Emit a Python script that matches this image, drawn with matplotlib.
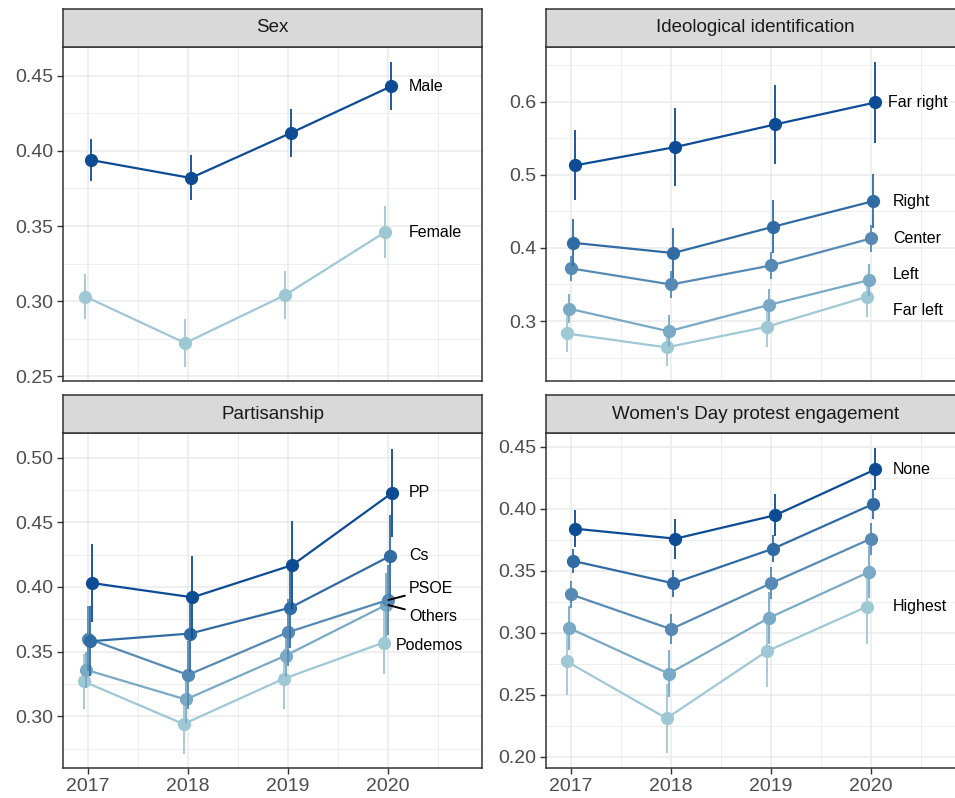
import matplotlib
matplotlib.use("Agg")
import matplotlib.pyplot as plt
import numpy as np
from matplotlib.colors import to_rgb

plt.rcParams['font.family'] = ['Liberation Sans', 'DejaVu Sans']

years = [2017, 2018, 2019, 2020]

# ---- Sex ----
sex_groups = ["Male", "Female"]
sex_est = [[0.394, 0.382, 0.412, 0.443],
           [0.303, 0.272, 0.304, 0.346]]
sex_err = [[0.014, 0.015, 0.016, 0.016],
           [0.015, 0.016, 0.016, 0.017]]

# ---- Ideological identification ----
ideo_groups = ["Far right", "Right", "Center", "Left", "Far left"]
ideo_est = [[0.513, 0.538, 0.569, 0.599],
            [0.407, 0.393, 0.429, 0.464],
            [0.372, 0.350, 0.376, 0.413],
            [0.317, 0.286, 0.322, 0.356],
            [0.283, 0.264, 0.292, 0.333]]
ideo_err = [[0.048, 0.053, 0.054, 0.055],
            [0.032, 0.034, 0.036, 0.037],
            [0.017, 0.019, 0.019, 0.019],
            [0.020, 0.022, 0.022, 0.022],
            [0.026, 0.026, 0.027, 0.028]]

# ---- Partisanship ----
part_groups = ["PP", "Cs", "PSOE", "Others", "Podemos"]
part_est = [[0.403, 0.392, 0.417, 0.473],
            [0.358, 0.364, 0.384, 0.424],
            [0.360, 0.332, 0.365, 0.390],
            [0.336, 0.313, 0.347, 0.386],
            [0.327, 0.294, 0.329, 0.357]]
part_err = [[0.030, 0.032, 0.034, 0.034],
            [0.027, 0.030, 0.031, 0.032],
            [0.025, 0.026, 0.026, 0.027],
            [0.014, 0.018, 0.017, 0.025],
            [0.021, 0.023, 0.023, 0.024]]

# ---- Women's Day protest engagement ----
wd_groups = ["None", "", "", "", "Highest"]
wd_est = [[0.384, 0.376, 0.395, 0.432],
          [0.358, 0.340, 0.368, 0.404],
          [0.331, 0.303, 0.340, 0.376],
          [0.304, 0.267, 0.312, 0.349],
          [0.277, 0.231, 0.285, 0.321]]
wd_err = [[0.015, 0.016, 0.017, 0.017],
          [0.010, 0.011, 0.011, 0.012],
          [0.011, 0.012, 0.013, 0.013],
          [0.018, 0.019, 0.021, 0.021],
          [0.027, 0.028, 0.029, 0.030]]

DARK = "#0d4c94"
LIGHT = "#9fc8d5"


def palette(n):
    a, b = np.array(to_rgb(DARK)), np.array(to_rgb(LIGHT))
    return [tuple(a + (b - a) * i / (n - 1)) for i in range(n)]


W, H = 955, 798
fig = plt.figure(figsize=(W / 100, H / 100), dpi=100)


def fx(px):
    return px / W


def fy(py):
    return 1 - py / H


def make_panel(x0, ptop, pbot, title):
    width = 419
    ax = fig.add_axes([fx(x0), fy(pbot), width / W, (pbot - ptop) / H])
    sax = fig.add_axes([fx(x0), fy(ptop), width / W, 38 / H])
    sax.set_facecolor("#d9d9d9")
    sax.set_xticks([]); sax.set_yticks([])
    for s in sax.spines.values():
        s.set_color("#333333"); s.set_linewidth(1.1)
    sax.text(0.5, 0.5, title, ha="center", va="center", fontsize=13.5,
             color="#1a1a1a", transform=sax.transAxes)
    return ax


def draw(ax, groups, est, err, ylim, yticks, fmt, labels, show_x,
         dodge=0.112):
    n = len(groups)
    cols = palette(n)
    ax.set_xticks(years)
    ax.set_xticks([2017.5, 2018.5, 2019.5, 2020.5], minor=True)
    ax.set_yticks(yticks)
    ymin = [(a + b) / 2 for a, b in zip(yticks[:-1], yticks[1:])]
    step = yticks[1] - yticks[0]
    ymin = [yticks[0] - step / 2] + ymin + [yticks[-1] + step / 2]
    ax.set_yticks(ymin, minor=True)
    ax.set_yticklabels([fmt.format(v) for v in yticks])
    ax.grid(True, which="major", color="#ebebeb", linewidth=1.1, zorder=0)
    ax.grid(True, which="minor", color="#ebebeb", linewidth=0.6, zorder=0)
    ax.set_axisbelow(True)
    for s in ax.spines.values():
        s.set_color("#333333"); s.set_linewidth(1.1)
    ax.tick_params(axis="both", which="major", colors="#333333", length=4,
                   width=1.0, labelsize=14, labelcolor="#4d4d4d", pad=3)
    ax.tick_params(axis="both", which="minor", length=0)
    if not show_x:
        ax.tick_params(axis="x", which="major", length=0, labelbottom=False)
    # draw lighter groups first so darker on top
    for i in reversed(range(n)):
        off = ((n - 1) / 2 - i) * dodge / n
        xs = [y + off for y in years]
        ax.errorbar(xs, est[i], yerr=err[i], color=cols[i], linewidth=1.6,
                    elinewidth=1.3, marker="o", markersize=8.5, capsize=0,
                    zorder=3 + (n - i))
    for lab in labels:
        text, x, y = lab[0], lab[1], lab[2]
        if len(lab) > 3:
            ax.annotate(text, xy=lab[3], xytext=(x, y), fontsize=11.5,
                        va="center", ha="left", color="black", zorder=20,
                        arrowprops=dict(arrowstyle="-", color="black",
                                        lw=1.4, shrinkA=1, shrinkB=0))
        else:
            ax.text(x, y, text, fontsize=11.5, va="center", ha="left",
                    color="black", zorder=10)
    ax.set_xlim(2016.75, 2020.94)
    ax.set_ylim(*ylim)


ax1 = make_panel(63, 47, 381, "Sex")
draw(ax1, sex_groups, sex_est, sex_err, (0.2467, 0.4693),
     [0.25, 0.30, 0.35, 0.40, 0.45], "{:.2f}",
     [("Male", 2020.21, sex_est[0][3]), ("Female", 2020.21, sex_est[1][3])],
     False)

ax2 = make_panel(546, 47, 381, "Ideological identification")
draw(ax2, ideo_groups, ideo_est, ideo_err, (0.218, 0.6748),
     [0.3, 0.4, 0.5, 0.6], "{:.1f}",
     [("Far right", 2020.17, ideo_est[0][3]),
      ("Right", 2020.22, ideo_est[1][3]),
      ("Center", 2020.22, ideo_est[2][3]),
      ("Left", 2020.22, ideo_est[3][3] + 0.007),
      ("Far left", 2020.22, ideo_est[4][3] - 0.018)],
     False)

ax3 = make_panel(63, 433, 768, "Partisanship")
draw(ax3, part_groups, part_est, part_err, (0.26, 0.5191),
     [0.30, 0.35, 0.40, 0.45, 0.50], "{:.2f}",
     [("PP", 2020.21, part_est[0][3]),
      ("Cs", 2020.21, part_est[1][3]),
      ("PSOE", 2020.21, 0.3985, (2020.005, part_est[2][3])),
      ("Others", 2020.21, 0.377, (2020.005, part_est[3][3])),
      ("Podemos", 2020.08, 0.355)],
     True)

ax4 = make_panel(546, 433, 768, "Women's Day protest engagement")
draw(ax4, wd_groups, wd_est, wd_err, (0.1909, 0.4613),
     [0.20, 0.25, 0.30, 0.35, 0.40, 0.45], "{:.2f}",
     [("None", 2020.22, wd_est[0][3]), ("Highest", 2020.22, wd_est[4][3])],
     True)

fig.savefig("out.png", dpi=100)
